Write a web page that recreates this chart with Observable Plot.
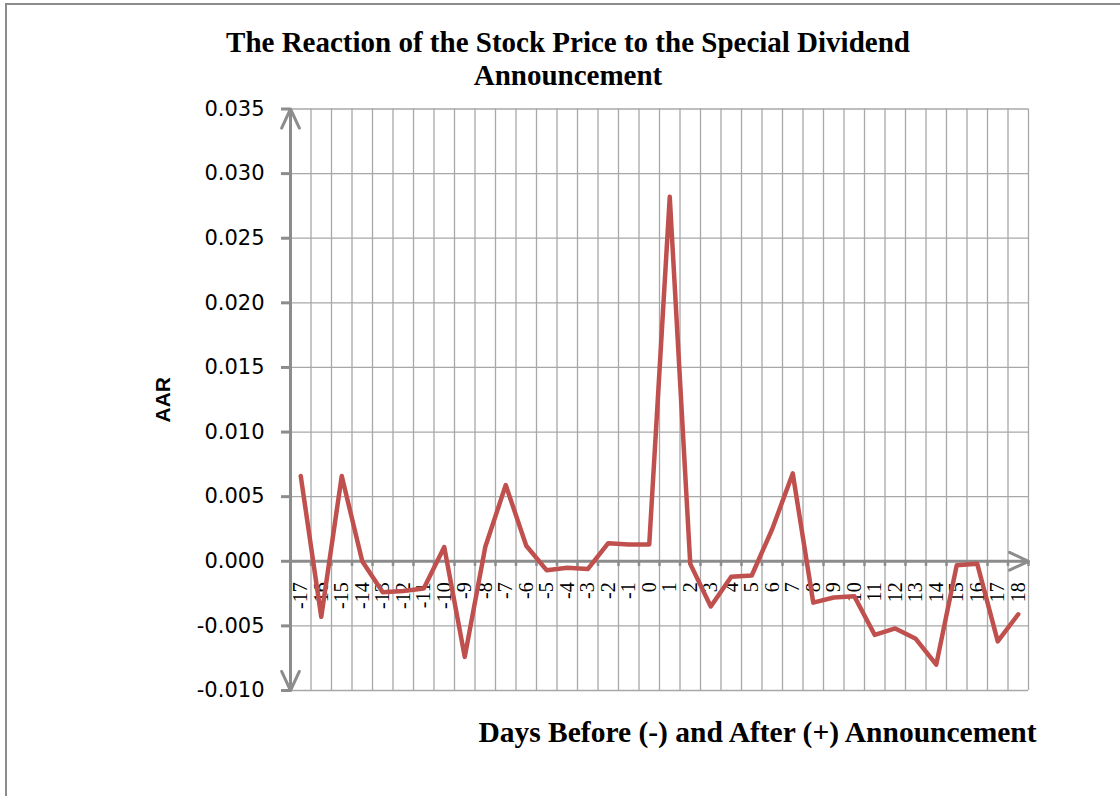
<!DOCTYPE html>
<html><head><meta charset="utf-8">
<script src="https://cdn.jsdelivr.net/npm/d3@7"></script>
<script src="https://cdn.jsdelivr.net/npm/@observablehq/plot@0.6"></script>
<style>
body{margin:0;background:#fff;overflow:hidden}
#wrap{position:relative;width:1120px;height:796px;overflow:hidden}
#frame{position:absolute;left:5px;top:3px;width:1200px;height:900px;border:2px solid #8c8c8c;box-sizing:border-box}
#chart{position:absolute;left:0;top:0}
</style></head><body>
<div id="wrap"><div id="frame"></div><div id="chart"></div></div>
<script>
const days = [-17,-16,-15,-14,-13,-12,-11,-10,-9,-8,-7,-6,-5,-4,-3,-2,-1,0,1,2,3,4,5,6,7,8,9,10,11,12,13,14,15,16,17,18];
const aar = [0.0066,-0.0043,0.0066,0.0000,-0.0024,-0.0023,-0.0021,0.0011,-0.0074,0.0011,0.0059,0.0012,-0.0007,-0.0005,-0.0006,0.0014,0.0013,0.0013,0.0282,-0.0002,-0.0035,-0.0012,-0.0011,0.0025,0.0068,-0.0032,-0.0028,-0.0027,-0.0057,-0.0052,-0.0060,-0.0080,-0.0003,-0.0002,-0.0062,-0.0041];
const yTicks = [-0.010,-0.005,0.000,0.005,0.010,0.015,0.020,0.025,0.030,0.035];
const titleLine1 = "The Reaction of the Stock Price to the Special Dividend";
const titleLine2 = "Announcement";
const xTitle = "Days Before (-) and After (+) Announcement";
const yTitle = "AAR";

const table = days.map((d, i) => ({day: d, aar: aar[i]}));
const bounds = days.map(d => d - 0.5).concat([days[days.length - 1] + 0.5]);
const xMin = bounds[0], xMax = bounds[bounds.length - 1];
const yMin = yTicks[0], yMax = yTicks[yTicks.length - 1];
const axisColor = "#8c8c8c";
const gridColor = "#a8a8a8";
const serif = "'Liberation Serif','Times New Roman',serif";

const chart = Plot.plot({
  width: 1120,
  height: 796,
  marginLeft: 290,
  marginRight: 92,
  marginTop: 108.5,
  marginBottom: 106,
  style: {background: "transparent", overflow: "visible"},
  x: {type: "linear", domain: [xMin, xMax], axis: null},
  y: {domain: [yMin, yMax], axis: null},
  marks: [
    Plot.ruleY(yTicks, {stroke: gridColor, strokeWidth: 1.3}),
    Plot.ruleX(bounds, {stroke: gridColor, strokeWidth: 1.3}),
    Plot.axisY({ticks: yTicks, tickFormat: d => d.toFixed(3), tickSize: 9, tickPadding: 17,
      stroke: axisColor, strokeWidth: 3, fill: "#000", fontSize: 21, fontFamily: "'DejaVu Sans',sans-serif", label: null}),
    Plot.ruleX(bounds, {y1: 0, y2: -0.0004, stroke: axisColor, strokeWidth: 2.5}),
    Plot.arrow([{x1: xMin, y1: 0, x2: xMin, y2: yMax}, {x1: xMin, y1: 0, x2: xMin, y2: yMin}, {x1: xMin, y1: 0, x2: xMax, y2: 0}],
      {x1: "x1", y1: "y1", x2: "x2", y2: "y2", stroke: axisColor, strokeWidth: 3, headLength: 10.5, headAngle: 50}),
    Plot.text(days, {x: d => d, y: 0, text: d => String(d), rotate: -90, textAnchor: "end", lineAnchor: "middle",
      dy: 21, fontSize: 20, fontFamily: serif, fill: "#000"}),
    Plot.line(table, {x: "day", y: "aar", stroke: "#c0504d", strokeWidth: 4.5, strokeLinejoin: "round", strokeLinecap: "round"}),
    Plot.text([titleLine1], {frameAnchor: "top", dx: -91.5, dy: -57.5, lineAnchor: "bottom", fontSize: 29, fontWeight: "bold", fontFamily: serif, fill: "#000"}),
    Plot.text([titleLine2], {frameAnchor: "top", dx: -91.5, dy: -24.5, lineAnchor: "bottom", fontSize: 29, fontWeight: "bold", fontFamily: serif, fill: "#000"}),
    Plot.text([xTitle], {frameAnchor: "bottom", dx: 98, dy: 51, lineAnchor: "bottom", fontSize: 29.5, fontWeight: "bold", fontFamily: serif, fill: "#000"}),
    Plot.text([yTitle], {frameAnchor: "left", dx: -127.5, rotate: -90, textAnchor: "middle", lineAnchor: "middle", fontSize: 21, fontWeight: "bold", fontFamily: "'Liberation Sans',Arial,sans-serif", fill: "#000"})
  ]
});
document.getElementById("chart").appendChild(chart);
</script>
</body></html>
